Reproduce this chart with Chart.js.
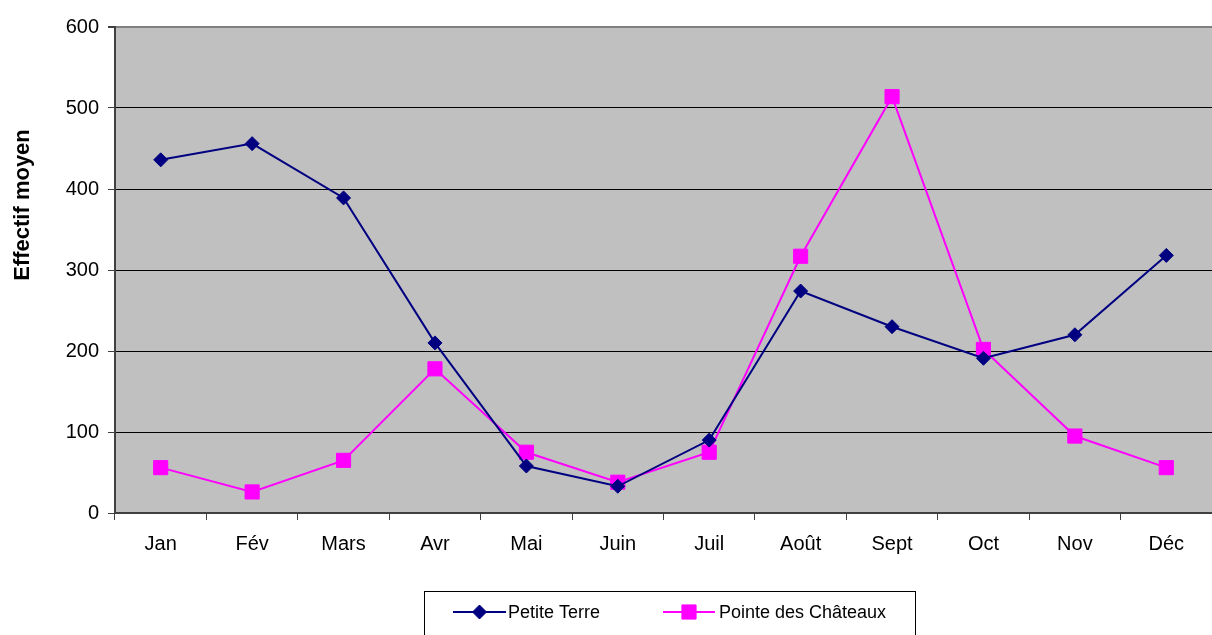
<!DOCTYPE html>
<html>
<head>
<meta charset="utf-8">
<script src="https://cdn.jsdelivr.net/npm/chart.js@4"></script>
<style>
  html, body { margin: 0; padding: 0; background: #fff; overflow: hidden; }
  #wrap { width: 1212px; height: 635px; position: relative; overflow: hidden; }
  #c { display: block; }
</style>
</head>
<body>
<div id="wrap"><canvas id="c" width="1212" height="635"></canvas></div>
<script>
// Monthly mean counts per site
const months = ['Jan', 'Fév', 'Mars', 'Avr', 'Mai', 'Juin', 'Juil', 'Août', 'Sept', 'Oct', 'Nov', 'Déc'];
const petiteTerre = [436, 456, 389, 210, 58, 33, 90, 274, 230, 191, 220, 318];
const pointeChateaux = [56, 26, 65, 178, 75, 38, 75, 317, 514, 202, 95, 56];
const seriesNames = ['Petite Terre', 'Pointe des Châteaux'];
const yTicks = [0, 100, 200, 300, 400, 500, 600];
const yTitle = 'Effectif moyen';

const FONT = '"Liberation Sans", Arial, sans-serif';
const NAVY = '#000080';
const MAGENTA = '#FF00FF';

// Gray plot background, vertical axis title and boxed legend
const decor = {
  id: 'decor',
  beforeDraw(chart) {
    const { ctx, chartArea: a } = chart;
    ctx.save();
    ctx.fillStyle = '#C0C0C0';
    ctx.fillRect(a.left, a.top, a.right - a.left, a.bottom - a.top);
    ctx.restore();
  },
  afterDraw(chart) {
    const { ctx } = chart;
    ctx.save();
    // axis title
    ctx.translate(23, 205);
    ctx.rotate(-Math.PI / 2);
    ctx.font = 'bold 22px ' + FONT;
    ctx.fillStyle = '#000';
    ctx.textAlign = 'center';
    ctx.textBaseline = 'middle';
    ctx.fillText(yTitle, 0, 0);
    ctx.restore();

    // legend box
    ctx.save();
    ctx.strokeStyle = '#000';
    ctx.lineWidth = 1;
    ctx.strokeRect(424.5, 591.5, 491, 60);
    const items = [
      { x0: 453, x1: 506, tx: 508 },
      { x0: 663, x1: 715, tx: 719 }
    ];
    const ly = 612;
    chart.data.datasets.forEach((ds, i) => {
      const it = items[i];
      ctx.strokeStyle = ds.borderColor;
      ctx.lineWidth = 2;
      ctx.beginPath();
      ctx.moveTo(it.x0, ly);
      ctx.lineTo(it.x1, ly);
      ctx.stroke();
      ctx.fillStyle = ds.pointBackgroundColor;
      ctx.strokeStyle = ds.pointBorderColor;
      ctx.lineWidth = 1;
      Chart.helpers.drawPoint(ctx, {
        pointStyle: ds.pointStyle,
        radius: ds.pointRadius,
        borderWidth: 1,
        rotation: 0
      }, (it.x0 + it.x1) / 2, ly);
      ctx.font = '18px ' + FONT;
      ctx.fillStyle = '#000';
      ctx.textAlign = 'left';
      ctx.textBaseline = 'middle';
      ctx.fillText(ds.label, it.tx, ly + 1);
    });
    ctx.restore();
  }
};

new Chart(document.getElementById('c'), {
  type: 'line',
  data: {
    labels: months,
    datasets: [
      {
        label: seriesNames[0],
        data: petiteTerre,
        borderColor: NAVY,
        borderWidth: 2,
        pointStyle: 'rectRot',
        pointRadius: 7,
        pointBackgroundColor: NAVY,
        pointBorderColor: NAVY,
        pointBorderWidth: 1,
        tension: 0,
        fill: false
      },
      {
        label: seriesNames[1],
        data: pointeChateaux,
        borderColor: MAGENTA,
        borderWidth: 2,
        pointStyle: 'rect',
        pointRadius: 10,
        pointBackgroundColor: MAGENTA,
        pointBorderColor: MAGENTA,
        pointBorderWidth: 1,
        tension: 0,
        fill: false
      }
    ]
  },
  options: {
    responsive: false,
    animation: false,
    devicePixelRatio: 1,
    layout: { autoPadding: false, padding: { top: 27, right: 0, left: 0, bottom: 0 } },
    plugins: {
      legend: { display: false },
      tooltip: { enabled: false },
      title: { display: false }
    },
    scales: {
      x: {
        type: 'category',
        offset: true,
        afterFit(s) {
          s.height = 122;
          s.paddingLeft = 0;
          s.paddingRight = 0;
        },
        grid: {
          offset: true,
          drawOnChartArea: false,
          drawTicks: true,
          tickLength: 7,
          tickColor: '#404040',
          tickWidth: 1
        },
        border: { display: true, color: '#404040', width: 2 },
        ticks: {
          color: '#000',
          font: { family: FONT, size: 20 },
          padding: 12,
          maxRotation: 0,
          autoSkip: false
        }
      },
      y: {
        min: 0,
        max: 600,
        afterFit(s) {
          s.width = 115;
          s.paddingTop = 0;
          s.paddingBottom = 0;
        },
        afterBuildTicks(s) { s.ticks = yTicks.map(v => ({ value: v })); },
        grid: {
          color(ctx) {
            const v = ctx.tick && ctx.tick.value;
            if (v === 0) return 'rgba(0,0,0,0)';
            if (v === 600) return '#808080';
            return '#000';
          },
          lineWidth(ctx) {
            const v = ctx.tick && ctx.tick.value;
            return v === 600 ? 2 : 1;
          },
          drawTicks: true,
          tickLength: 7,
          tickColor: '#404040'
        },
        border: { display: true, color: '#404040', width: 2 },
        ticks: {
          color: '#000',
          font: { family: FONT, size: 20 },
          padding: 9
        }
      }
    }
  },
  plugins: [decor]
});
</script>
</body>
</html>
